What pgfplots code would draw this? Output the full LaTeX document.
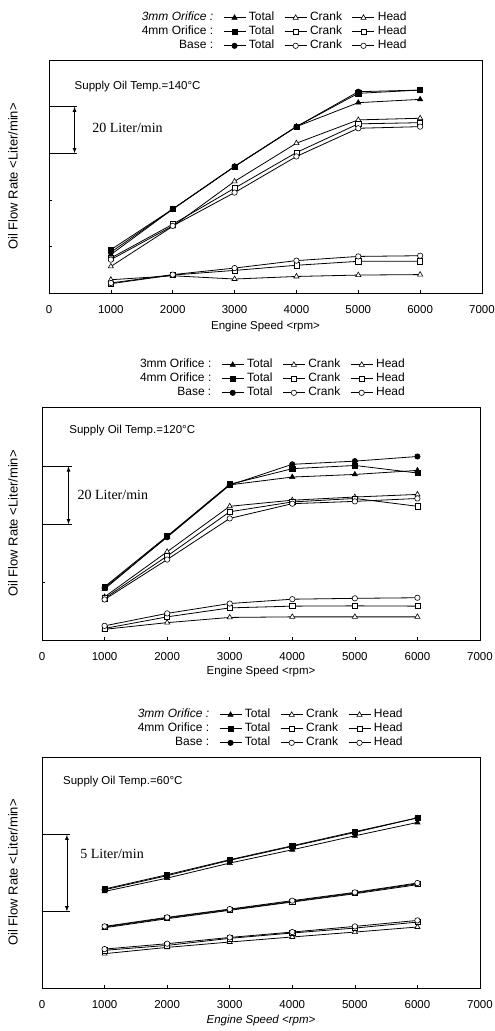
\documentclass[border=0pt]{standalone}
\usepackage{fontspec}
\setmainfont{Liberation Sans}
\newfontfamily\timesfont{Liberation Serif}
\usepackage{pgfplots}
\usepackage{pgfplotstable}
\pgfplotsset{compat=1.18}

\pgfplotstableread{
rpm T3 C3 H3 T4 C4 H4 TB CB HB
1000 16.5 11.4 5.7 18.6 15.0 4.0 17.5 14.3 4.3
2000 36.0 28.6 7.4 36.0 29.5 7.7 36.0 28.8 7.9
3000 54.3 47.9 6.0 54.3 45.0 9.7 54.3 43.1 10.7
4000 71.4 64.3 7.1 71.4 60.3 11.9 71.4 58.6 13.9
5000 81.7 74.3 7.7 85.7 72.6 13.6 86.4 70.7 15.7
6000 83.1 75.0 7.9 87.1 73.1 13.6 87.1 71.4 16.0
}\tableA

\pgfplotstableread{
rpm T3 C3 H3 T4 C4 H4 TB CB HB
1000 17.6 14.9 3.7 18.4 14.4 4.0 18.0 14.0 4.9
2000 35.7 30.5 6.0 35.9 29.0 8.0 35.5 27.8 9.2
3000 53.6 46.2 7.8 53.8 44.3 11.1 53.5 42.0 12.6
4000 56.3 48.3 8.0 59.2 47.7 11.7 60.7 47.1 14.1
5000 57.2 49.4 8.0 60.3 48.9 11.8 61.8 47.9 14.4
6000 58.6 50.3 8.0 57.7 46.2 11.7 63.4 48.9 14.6
}\tableB

\pgfplotstableread{
rpm T3 C3 H3 T4 C4 H4 TB CB HB
1000 6.30 3.93 2.24 6.46 3.98 2.46 6.41 4.02 2.54
2000 7.17 4.52 2.65 7.39 4.57 2.78 7.33 4.61 2.89
3000 8.15 5.07 3.00 8.37 5.11 3.24 8.33 5.15 3.30
4000 9.02 5.61 3.33 9.28 5.65 3.59 9.24 5.70 3.65
5000 9.93 6.15 3.65 10.20 6.20 3.91 10.15 6.24 4.02
6000 10.80 6.74 3.98 11.10 6.80 4.30 11.10 6.85 4.41
}\tableC

\tikzset{
  ln/.style={black, line width=0.8pt},
  tri/.style={ln, mark=triangle*, mark size=3pt, mark options={solid, fill=black, line width=0.6pt}},
  otri/.style={ln, mark=triangle*, mark size=3pt, mark options={solid, fill=white, line width=0.6pt}},
  sq/.style={ln, mark=square*, mark size=2.6pt, mark options={solid, fill=black, line width=0.6pt}},
  osq/.style={ln, mark=square*, mark size=2.6pt, mark options={solid, fill=white, line width=0.6pt}},
  circ/.style={ln, mark=*, mark size=2.7pt, mark options={solid, fill=black, line width=0.6pt}},
  ocirc/.style={ln, mark=*, mark size=2.7pt, mark options={solid, fill=white, line width=0.6pt}},
}
\pgfplotsset{
  base/.style={
    scale only axis, anchor=north west,
    xmin=0, xmax=7000, ymin=0,
    xtick={0,1000,...,7000},
    yticklabels={},
    tick align=inside, xtick pos=bottom, ytick pos=left,
    major tick length=3pt,
    axis line style={line width=0.7pt},
    tick style={line width=0.6pt, black},
    ticklabel style={font=\fontsize{11.5}{13}\selectfont},
    /pgf/number format/assume math mode=true,
    /pgf/number format/1000 sep={},
    xticklabel style={yshift=-9pt},
    xlabel={Engine Speed <rpm>},
    ylabel={Oil Flow Rate <Liter/min>},
    xlabel style={font=\fontsize{11.5}{13}\selectfont, at={(axis description cs:0.5,0)}, anchor=center, yshift=-34pt},
    legend columns=4,
    legend cell align=left,
    legend image code/.code={\draw[mark repeat=2,mark phase=2,##1] plot coordinates {(0pt,0pt) (11pt,0pt) (22pt,0pt)};},
    legend style={draw=none, fill=none, font=\fontsize{12}{14}\selectfont,
      anchor=south, yshift=5pt,
      nodes={inner sep=1pt, text height=9pt, text depth=3pt},
      row sep=0pt, column sep=2pt,
      /tikz/every even column/.append style={column sep=9pt}},
  },
}

\newcommand\plotall[1]{%
  \addplot[otri, forget plot] table[x=rpm, y=H3] {#1};
  \addplot[osq, forget plot] table[x=rpm, y=H4] {#1};
  \addplot[ocirc, forget plot] table[x=rpm, y=HB] {#1};
  \addplot[otri, forget plot] table[x=rpm, y=C3] {#1};
  \addplot[osq, forget plot] table[x=rpm, y=C4] {#1};
  \addplot[ocirc, forget plot] table[x=rpm, y=CB] {#1};
  \addplot[tri, forget plot] table[x=rpm, y=T3] {#1};
  \addplot[sq, forget plot] table[x=rpm, y=T4] {#1};
  \addplot[circ, forget plot] table[x=rpm, y=TB] {#1};
}

\newcommand\legendall[1]{%
  \addlegendimage{empty legend}\addlegendentry{\makebox[72pt][r]{#1 :}}
  \addlegendimage{tri}\addlegendentry{Total}
  \addlegendimage{otri}\addlegendentry{Crank}
  \addlegendimage{otri}\addlegendentry{Head}
  \addlegendimage{empty legend}\addlegendentry{\makebox[72pt][r]{4mm Orifice :}}
  \addlegendimage{sq}\addlegendentry{Total}
  \addlegendimage{osq}\addlegendentry{Crank}
  \addlegendimage{osq}\addlegendentry{Head}
  \addlegendimage{empty legend}\addlegendentry{\makebox[72pt][r]{Base :}}
  \addlegendimage{circ}\addlegendentry{Total}
  \addlegendimage{ocirc}\addlegendentry{Crank}
  \addlegendimage{ocirc}\addlegendentry{Head}
}

\begin{document}
\begin{tikzpicture}
\useasboundingbox (0,0) rectangle (495pt,-1031pt);

% ---------- 140 C ----------
\begin{axis}[base, at={(49pt,-60pt)}, width=433pt, height=233pt,
  ymax=100, ytick={20,40,60,80},
  ylabel style={font=\fontsize{13}{15}\selectfont, at={(axis description cs:-0.083,0.5)}, anchor=center},
  legend style={at={(0.517,1)}}]
\plotall{\tableA}
\legendall{\itshape 3mm Orifice}
\draw[ln] (axis cs:0,60) -- (axis cs:456,60);
\draw[ln] (axis cs:0,80) -- (axis cs:456,80);
\draw[ln, latex-latex] (axis cs:413,80) -- (axis cs:413,60);
\node[anchor=west, inner sep=0pt, font=\timesfont\fontsize{14}{16}\selectfont] at (axis cs:697,70.7) {20 Liter/min};
\node[anchor=west, inner sep=0pt, font=\fontsize{11.5}{13}\selectfont] at (axis cs:413,88.6) {Supply Oil Temp.=140°C};
\end{axis}

% ---------- 120 C ----------
\begin{axis}[base, at={(42pt,-407pt)}, width=438pt, height=233pt,
  ymax=80.5, ytick={20,40,60},
  ylabel style={font=\fontsize{13}{15}\selectfont, at={(axis description cs:-0.066,0.5)}, anchor=center},
  xlabel style={yshift=2pt},
  legend style={at={(0.523,1)}}]
\plotall{\tableB}
\legendall{3mm Orifice}
\draw[ln] (axis cs:0,40) -- (axis cs:477,40);
\draw[ln] (axis cs:0,60) -- (axis cs:477,60);
\draw[ln, latex-latex] (axis cs:424,60) -- (axis cs:424,40);
\node[anchor=west, inner sep=0pt, font=\timesfont\fontsize{14}{16}\selectfont] at (axis cs:567,50.3) {20 Liter/min};
\node[anchor=west, inner sep=0pt, font=\fontsize{11.5}{13}\selectfont] at (axis cs:435,72.4) {Supply Oil Temp.=120°C};
\end{axis}

% ---------- 60 C ----------
\begin{axis}[base, at={(42pt,-757pt)}, width=438pt, height=231pt,
  ymax=15.07, ytick={5,10},
  ylabel style={font=\fontsize{13}{15}\selectfont, at={(axis description cs:-0.066,0.5)}, anchor=center},
  xlabel style={font=\itshape\fontsize{11.5}{13}\selectfont, yshift=1pt},
  legend style={at={(0.518,1)}}]
\plotall{\tableC}
\legendall{\itshape 3mm Orifice}
\draw[ln] (axis cs:0,5) -- (axis cs:450,5);
\draw[ln] (axis cs:0,10) -- (axis cs:450,10);
\draw[ln, latex-latex] (axis cs:398,10) -- (axis cs:398,5);
\node[anchor=west, inner sep=0pt, font=\timesfont\fontsize{14}{16}\selectfont] at (axis cs:610,8.76) {5 Liter/min};
\node[anchor=west, inner sep=0pt, font=\fontsize{11.5}{13}\selectfont] at (axis cs:334,13.5) {Supply Oil Temp.=60°C};
\end{axis}
\end{tikzpicture}
\end{document}
